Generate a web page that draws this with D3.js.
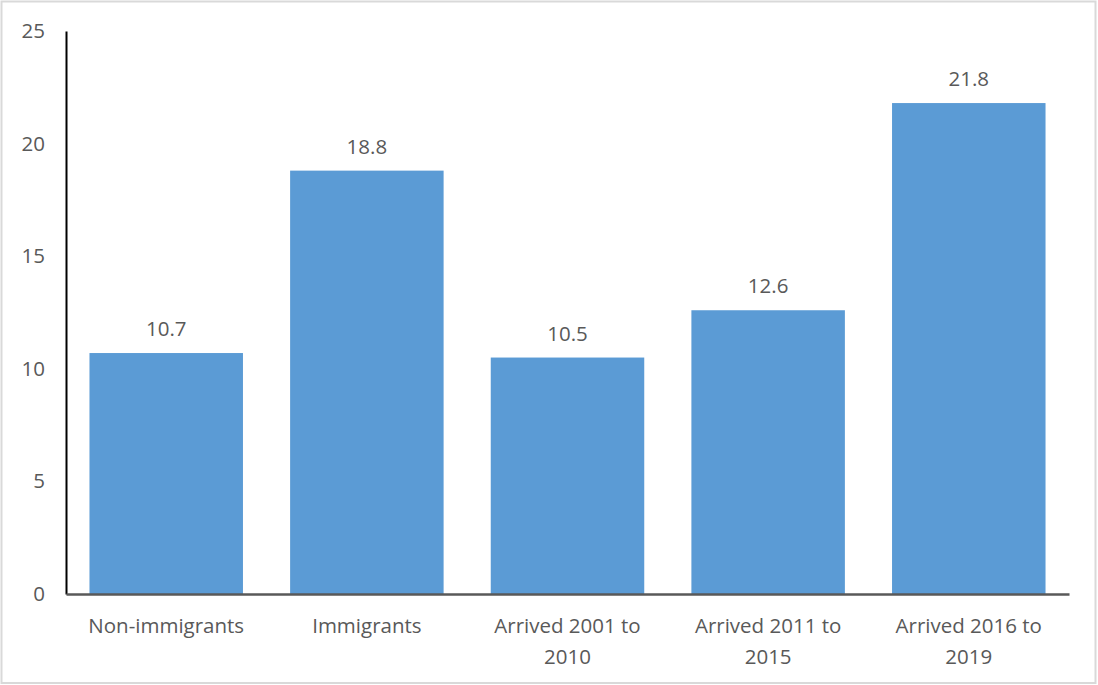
<!DOCTYPE html>
<html>
<head>
<meta charset="utf-8">
<script src="https://cdn.jsdelivr.net/npm/d3@7"></script>
<style>
  html, body { margin: 0; padding: 0; background: #fff; }
  svg { display: block; }
  text { font-family: "Open Sans", Lato, sans-serif; fill: #595959; }
</style>
</head>
<body>
<script>
// Chart data
const categories = ["Non-immigrants", "Immigrants", "Arrived 2001 to 2010", "Arrived 2011 to 2015", "Arrived 2016 to 2019"];
const values = [10.7, 18.8, 10.5, 12.6, 21.8];
const yTicks = [0, 5, 10, 15, 20, 25];

const W = 1098, H = 685;
const margin = { left: 66, right: 29, top: 31, bottom: 91 };
const FONT = "'Open Sans', Lato, sans-serif";
const FS = 20.5;

const svg = d3.select("body").append("svg").attr("width", W).attr("height", H);

// outer frame
svg.append("rect")
  .attr("x", 1.5).attr("y", 1.5)
  .attr("width", W - 4).attr("height", H - 3.5)
  .attr("fill", "#fff").attr("stroke", "#d9d9d9").attr("stroke-width", 2);

const x = d3.scaleBand()
  .domain(categories)
  .range([margin.left, W - margin.right])
  .paddingInner(0.235).paddingOuter(0.117);

const y = d3.scaleLinear()
  .domain([0, 25])
  .range([H - margin.bottom, margin.top]);

// bars
svg.append("g").selectAll("rect")
  .data(values)
  .join("rect")
  .attr("x", (d, i) => x(categories[i]))
  .attr("y", d => y(d))
  .attr("width", x.bandwidth())
  .attr("height", d => y(0) - y(d))
  .attr("fill", "#5b9bd5");

// value labels
svg.append("g").selectAll("text")
  .data(values)
  .join("text")
  .attr("x", (d, i) => x(categories[i]) + x.bandwidth() / 2)
  .attr("y", d => y(d) - 17)
  .attr("text-anchor", "middle")
  .attr("font-size", FS)
  .text(d => d.toFixed(1));

// y axis
const yAxis = d3.axisLeft(y).tickValues(yTicks).tickSize(0).tickPadding(21);
const gy = svg.append("g").attr("transform", `translate(${margin.left},0)`).call(yAxis);
gy.select(".domain").attr("stroke", "#000").attr("stroke-width", 2);
gy.selectAll(".tick text").attr("font-size", FS).attr("fill", "#595959")
  .style("font-family", FONT);

// x axis
const xAxis = d3.axisBottom(x).tickSize(0).tickPadding(0);
const gx = svg.append("g").attr("transform", `translate(0,${y(0)})`).call(xAxis);
gx.select(".domain").attr("stroke", "#595959").attr("stroke-width", 2.5);
gx.selectAll(".tick text").remove();

// category labels, "Arrived ..." wrapped before the last word
const labelLines = c => c.startsWith("Arrived")
  ? [c.slice(0, c.lastIndexOf(" ")), c.slice(c.lastIndexOf(" ") + 1)]
  : [c];
gx.selectAll(".tick").each(function(c) {
  const t = d3.select(this).append("text")
    .attr("text-anchor", "middle")
    .attr("font-size", FS)
    .attr("fill", "#595959")
    .style("font-family", FONT);
  labelLines(c).forEach((line, i) => {
    t.append("tspan").attr("x", 0).attr("y", 39 + i * 31).text(line);
  });
});
</script>
</body>
</html>
